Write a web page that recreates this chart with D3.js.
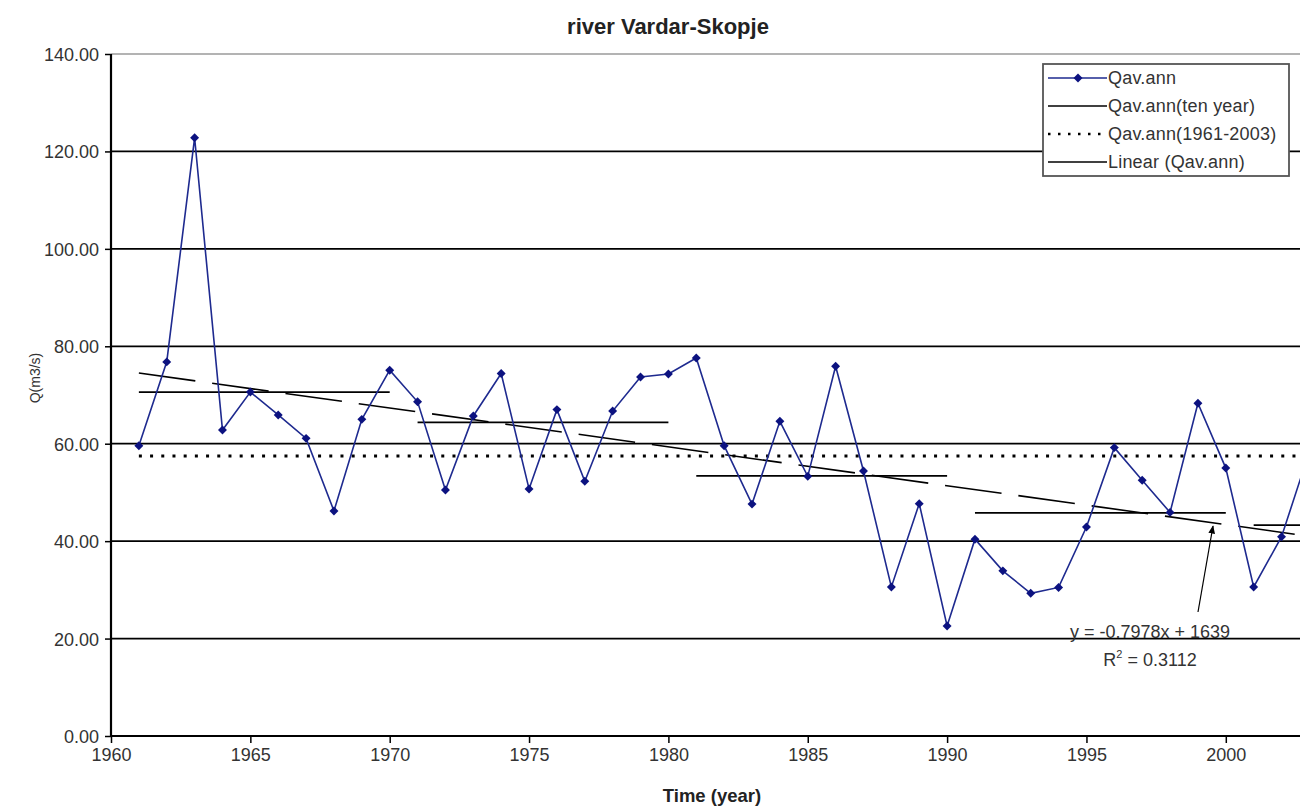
<!DOCTYPE html>
<html><head><meta charset="utf-8">
<script src="https://cdn.jsdelivr.net/npm/d3@7"></script>
<style>body{margin:0;background:#fff}svg{display:block;font-family:"Liberation Sans",Arial,sans-serif}</style>
</head><body><svg id="c" width="1300" height="807"></svg>
<script>
const years = [1961,1962,1963,1964,1965,1966,1967,1968,1969,1970,1971,1972,1973,1974,1975,1976,1977,1978,1979,1980,1981,1982,1983,1984,1985,1986,1987,1988,1989,1990,1991,1992,1993,1994,1995,1996,1997,1998,1999,2000,2001,2002,2003];
const qAnn = [59.6,76.8,122.8,62.8,70.6,65.9,61.1,46.2,65.0,75.1,68.6,50.5,65.7,74.4,50.7,67.0,52.3,66.7,73.7,74.3,77.6,59.6,47.6,64.6,53.3,75.9,54.4,30.6,47.7,22.6,40.4,33.9,29.3,30.5,42.9,59.2,52.5,45.9,68.3,55.0,30.6,40.9,58.4];
const decadeStart = [1961,1971,1981,1991,2001];
const decadeEnd = [1970,1980,1990,2000,2003];
const decadeMean = [70.6,64.4,53.4,45.8,43.3];
const overallMean = 57.5;
const trendSlope = -0.7978, trendIntercept = 1639;
const yTicks = [0,20,40,60,80,100,120,140];
const xTicks = [1960,1965,1970,1975,1980,1985,1990,1995,2000];
const legendLabels = ["Qav.ann","Qav.ann(ten year)","Qav.ann(1961-2003)","Linear (Qav.ann)"];

const svg = d3.select("#c");
const x = d3.scaleLinear().domain([1960,2005]).range([111,111+45*27.87]);
const y = d3.scaleLinear().domain([0,140]).range([736,54]);
const FONT = "Liberation Sans, Arial, sans-serif";

// gridlines
svg.append("g").selectAll("line").data(yTicks.filter(d=>d>0)).join("line")
  .attr("x1",111).attr("x2",1300).attr("y1",d=>y(d)).attr("y2",d=>y(d))
  .attr("stroke",d=>d===140?"#9a9a9a":"#000").attr("stroke-width",d=>d===140?1.5:1.8);

// axes
const yAxis = d3.axisLeft(y).tickValues(yTicks).tickSize(6).tickFormat(d3.format(".2f"));
const gy = svg.append("g").attr("transform","translate(111,0)").call(yAxis);
gy.select(".domain").attr("stroke-width",2.2).attr("d","M0,54V736");
gy.selectAll(".tick line").attr("stroke-width",1.5);
gy.selectAll(".tick text").attr("font-size",18).attr("letter-spacing",0).attr("fill","#333").attr("x",-12).attr("dy","0.36em")
  .attr("font-family",FONT);

const xAxis = d3.axisBottom(x).tickValues(xTicks).tickSize(7).tickFormat(d3.format("d"));
const gx = svg.append("g").attr("transform","translate(0,736)").call(xAxis);
gx.select(".domain").attr("stroke-width",2.2).attr("d","M111,0H1300");
gx.selectAll(".tick line").attr("stroke-width",1.5);
gx.selectAll(".tick text").attr("font-size",18).attr("letter-spacing",0).attr("fill","#333").attr("y",12)
  .attr("font-family",FONT);

// overall mean dotted
svg.append("line").attr("x1",x(1961)).attr("x2",1300).attr("y1",y(overallMean)).attr("y2",y(overallMean))
  .attr("stroke","#000").attr("stroke-width",3).attr("stroke-dasharray","3,8.2");

// decade means
svg.append("g").selectAll("line").data(decadeMean).join("line")
  .attr("x1",(d,i)=>x(decadeStart[i])).attr("x2",(d,i)=>x(decadeEnd[i]))
  .attr("y1",d=>y(d)).attr("y2",d=>y(d)).attr("stroke","#000").attr("stroke-width",1.8);

// trend line
const t0 = years[0], t1 = years[years.length-1];
svg.append("line").attr("x1",x(t0)).attr("y1",y(trendSlope*t0+trendIntercept))
  .attr("x2",x(t1)).attr("y2",y(trendSlope*t1+trendIntercept))
  .attr("stroke","#000").attr("stroke-width",1.6).attr("stroke-dasharray","57,17");

// series
const data = years.map((yr,i)=>({yr,v:qAnn[i]}));
svg.append("path").datum(data).attr("fill","none").attr("stroke","#1e2a8f").attr("stroke-width",1.6)
  .attr("d",d3.line().x(d=>x(d.yr)).y(d=>y(d.v)));
const diamond = d3.symbol().type(d3.symbolSquare).size(40);
svg.append("g").selectAll("path").data(data).join("path")
  .attr("d",diamond).attr("transform",d=>`translate(${x(d.yr)},${y(d.v)}) rotate(45)`).attr("fill","#0c1280");

// annotation
svg.append("text").attr("x",1150).attr("y",638).attr("text-anchor","middle").attr("font-size",18).attr("letter-spacing",0).attr("fill","#333")
  .attr("font-family",FONT).text("y = -0.7978x + 1639");
const r2 = svg.append("text").attr("x",1150).attr("y",666).attr("text-anchor","middle").attr("font-size",18).attr("fill","#333").attr("font-family",FONT);
r2.append("tspan").text("R");
r2.append("tspan").attr("font-size",11).attr("dy",-8).text("2");
r2.append("tspan").attr("dy",8).text(" = 0.3112");
svg.append("defs").append("marker").attr("id","ah").attr("viewBox","0 0 10 10").attr("refX",9).attr("refY",5)
  .attr("markerWidth",7).attr("markerHeight",7).attr("orient","auto")
  .append("path").attr("d","M0,1L10,5L0,9Z").attr("fill","#000");
svg.append("line").attr("x1",1198).attr("y1",612).attr("x2",1213).attr("y2",526)
  .attr("stroke","#000").attr("stroke-width",1.2).attr("marker-end","url(#ah)");

// legend
const lg = svg.append("g");
lg.append("rect").attr("x",1043).attr("y",64).attr("width",246).attr("height",112)
  .attr("fill","#fff").attr("stroke","#555").attr("stroke-width",1.8);
const rowY = i => 78 + i*28;
legendLabels.forEach((lab,i)=>{
  const ln = lg.append("line").attr("x1",1048).attr("x2",1107).attr("y1",rowY(i)).attr("y2",rowY(i))
    .attr("stroke",i===0?"#1e2a8f":"#000").attr("stroke-width",i===2?2.5:1.6);
  if(i===2) ln.attr("stroke-dasharray","2.5,7.5");
  if(i===0) lg.append("path").attr("d",diamond).attr("transform",`translate(1078,${rowY(i)}) rotate(45)`).attr("fill","#0c1280");
  lg.append("text").attr("x",1108).attr("y",rowY(i)).attr("dy","0.36em").attr("font-size",18).attr("letter-spacing",0.2).attr("fill","#333")
    .attr("font-family",FONT).text(lab);
});

// titles
svg.append("text").attr("x",668).attr("y",34).attr("text-anchor","middle").attr("font-weight","bold").attr("font-size",22).attr("fill","#222").attr("font-family",FONT).text("river Vardar-Skopje");
svg.append("text").attr("x",712).attr("y",802).attr("text-anchor","middle").attr("font-weight","bold").attr("font-size",18.5).attr("fill","#222").attr("font-family",FONT).text("Time (year)");
svg.append("text").attr("transform","translate(40,378) rotate(-90)").attr("text-anchor","middle").attr("font-size",14).attr("fill","#333").attr("font-family",FONT).text("Q(m3/s)");
</script></body></html>
